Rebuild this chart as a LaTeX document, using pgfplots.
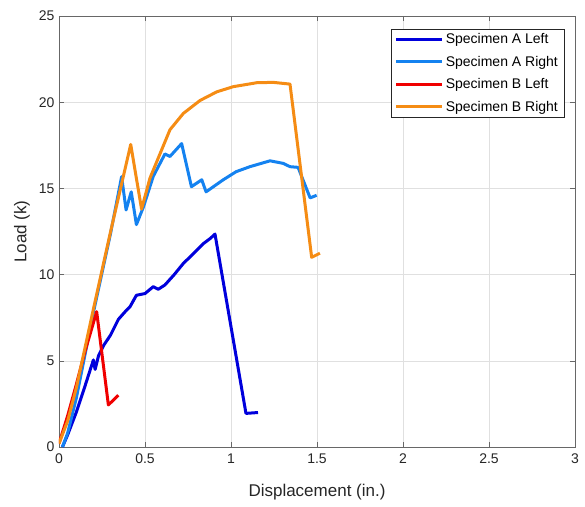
\documentclass[border=0pt]{standalone}
\usepackage{pgfplots}
\pgfplotsset{compat=1.18}
\usepackage{fontspec}
\setmainfont{Liberation Sans}
\definecolor{cA}{RGB}{0,0,220}
\definecolor{cB}{RGB}{20,130,240}
\definecolor{cC}{RGB}{240,0,0}
\definecolor{cD}{RGB}{245,140,20}
\definecolor{axc}{RGB}{38,38,38}
\begin{document}
\begin{tikzpicture}[x=1pt,y=1pt]
\useasboundingbox (-59,-59) rectangle (526,447);
\begin{axis}[
  at={(0,0)}, anchor=south west,
  scale only axis, width=516pt, height=431pt,
  xmin=0, xmax=3, ymin=0, ymax=25,
  xtick={0,0.5,...,3}, ytick={0,5,...,25},
  xticklabels={0,0.5,1,1.5,2,2.5,3},
  grid=major, major grid style={draw=black!12, line width=0.5pt},
  axis line style={draw=axc!70, line width=0.6pt},
  tick style={draw=axc!70, line width=0.6pt},
  tick align=inside, major tick length=5pt,
  xtick pos=both, ytick pos=both,
  /pgf/number format/assume math mode=true,
  ticklabel style={font=\fontsize{14}{16}\selectfont, text=axc},
  xticklabel style={yshift=-3pt},
  yticklabel style={xshift=-1pt},
  xlabel={Displacement (in.)}, ylabel={Load (k)},
  xlabel style={font=\fontsize{17}{19}\selectfont, text=axc, at={(axis description cs:0.5,0)}, anchor=center, yshift=-45pt},
  ylabel style={font=\fontsize{17}{19}\selectfont, text=axc, at={(axis description cs:0,0.5)}, anchor=center, rotate=0, yshift=37pt},
  legend style={at={(0.979,0.970)}, anchor=north east, draw=axc, line width=0.6pt,
    font=\fontsize{14}{16}\selectfont, inner xsep=4pt, inner ysep=2pt,
    row sep=7pt, cells={anchor=west}},
  legend cell align=left,
  legend image code/.code={\draw[#1, line width=3pt] (0pt,0pt) -- (46pt,0pt);},
  every axis plot/.append style={line width=3pt, line join=round},
]
\addplot[cA] coordinates {(0.02,0) (0.05,0.7) (0.1,2.0) (0.15,3.5) (0.2,5.05) (0.21,4.5) (0.23,5.3) (0.26,5.9) (0.287,6.3) (0.3,6.5) (0.345,7.4) (0.38,7.8) (0.413,8.14) (0.45,8.8) (0.5,8.9) (0.548,9.3) (0.577,9.15) (0.616,9.4) (0.67,10.0) (0.723,10.65) (0.78,11.2) (0.84,11.8) (0.88,12.1) (0.907,12.35) (1.087,1.95) (1.157,2.0)};
\addlegendentry{Specimen A Left}
\addplot[cB] coordinates {(0.02,0) (0.05,0.8) (0.1,2.8) (0.2,7.8) (0.3,12.4) (0.364,15.68) (0.39,13.75) (0.42,14.8) (0.45,12.9) (0.49,13.9) (0.548,15.7) (0.616,17.0) (0.645,16.85) (0.713,17.6) (0.77,15.1) (0.83,15.5) (0.855,14.8) (0.955,15.5) (1.03,15.97) (1.11,16.26) (1.227,16.6) (1.304,16.45) (1.343,16.26) (1.39,16.22) (1.46,14.45) (1.498,14.6)};
\addlegendentry{Specimen A Right}
\addplot[cC] coordinates {(0,0.2) (0.05,1.8) (0.1,3.6) (0.15,5.5) (0.219,7.85) (0.287,2.44) (0.345,3.0)};
\addlegendentry{Specimen B Left}
\addplot[cD] coordinates {(0,0.2) (0.05,1.5) (0.1,3.4) (0.2,8.0) (0.3,12.5) (0.417,17.55) (0.48,13.8) (0.529,15.6) (0.587,17.0) (0.645,18.4) (0.723,19.35) (0.82,20.1) (0.917,20.6) (1.013,20.9) (1.15,21.13) (1.246,21.15) (1.343,21.05) (1.469,11.0) (1.517,11.24)};
\addlegendentry{Specimen B Right}
\end{axis}
\end{tikzpicture}
\end{document}
